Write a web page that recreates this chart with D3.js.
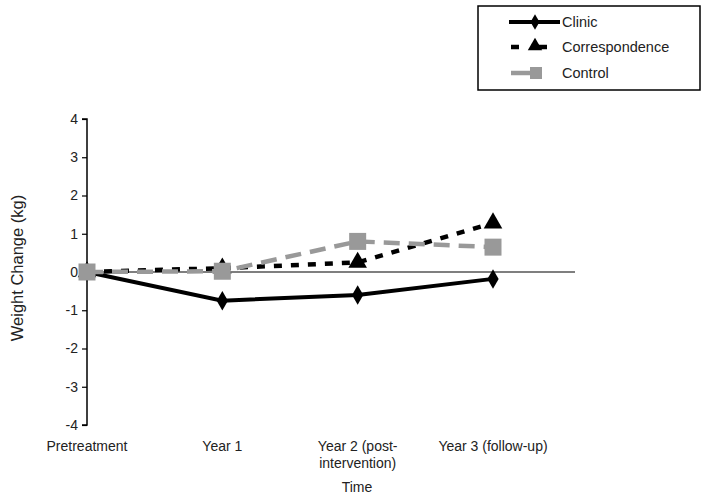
<!DOCTYPE html>
<html>
<head>
<meta charset="utf-8">
<script src="https://cdn.jsdelivr.net/npm/d3@7"></script>
<style>
  body { margin: 0; background: #fff; }
  svg { font-family: "Liberation Sans", Arial, sans-serif; }
</style>
</head>
<body>
<div id="chart"></div>
<script>
// data
var categories = ["Pretreatment", "Year 1", "Year 2 (post-intervention)", "Year 3 (follow-up)"];
var catLines = [["Pretreatment"], ["Year 1"], ["Year 2 (post-", "intervention)"], ["Year 3 (follow-up)"]];
var clinic = [0, -0.75, -0.6, -0.18];
var correspondence = [0, 0.1, 0.25, 1.28];
var control = [0, 0.02, 0.8, 0.65];
var yTicks = [-4, -3, -2, -1, 0, 1, 2, 3, 4];

var width = 705, height = 498;
var svg = d3.select("#chart").append("svg")
    .attr("width", width)
    .attr("height", height);

var x = d3.scalePoint().domain(categories).range([87, 493]);
var y = d3.scaleLinear().domain([-4, 4]).range([425, 119]);

// y axis
var yAxis = d3.axisLeft(y).tickValues(yTicks).tickSize(5).tickFormat(d3.format("d"));
var gy = svg.append("g").attr("transform", "translate(87,0)").call(yAxis);
gy.select(".domain").attr("stroke", "#000").attr("stroke-width", 1.5).attr("d", "M-5,119H0V425H-5");
gy.selectAll(".tick line").attr("stroke", "#000").attr("stroke-width", 1.2);
gy.selectAll(".tick text").attr("font-size", 14).attr("fill", "#222").attr("x", -9)
    .text(function(d) { return d < 0 ? "-" + Math.abs(d) : d; });

// zero line
svg.append("line")
    .attr("x1", 87).attr("x2", 575)
    .attr("y1", y(0)).attr("y2", y(0))
    .attr("stroke", "#000").attr("stroke-width", 1.2);

// category labels
categories.forEach(function(c, i) {
    var t = svg.append("text")
        .attr("x", x(c)).attr("y", 451)
        .attr("text-anchor", "middle")
        .attr("font-size", 14).attr("fill", "#222");
    catLines[i].forEach(function(s, j) {
        t.append("tspan").attr("x", x(c)).attr("dy", j == 0 ? 0 : 17).text(s);
    });
});

// axis titles
svg.append("text").attr("x", 357).attr("y", 492).attr("text-anchor", "middle")
    .attr("font-size", 14).attr("fill", "#222").text("Time");
svg.append("text").attr("transform", "translate(23,268) rotate(-90)").attr("text-anchor", "middle")
    .attr("font-size", 16.5).attr("fill", "#222").text("Weight Change (kg)");

var line = d3.line()
    .x(function(d, i) { return x(categories[i]); })
    .y(function(d) { return y(d); });

// clinic
svg.append("path").attr("d", line(clinic)).attr("fill", "none")
    .attr("stroke", "#000").attr("stroke-width", 4);
svg.selectAll(".dia").data(clinic).enter().append("path")
    .attr("d", d3.symbol().type(d3.symbolDiamond).size(110))
    .attr("transform", function(d, i) { return "translate(" + x(categories[i]) + "," + y(d) + ")"; })
    .attr("fill", "#000");

// correspondence
svg.append("path").attr("d", line(correspondence)).attr("fill", "none")
    .attr("stroke", "#000").attr("stroke-width", 4.5).attr("stroke-dasharray", "8,9");
svg.selectAll(".tri").data(correspondence).enter().append("path")
    .attr("d", d3.symbol().type(d3.symbolTriangle).size(150))
    .attr("transform", function(d, i) { return "translate(" + x(categories[i]) + "," + y(d) + ")"; })
    .attr("fill", "#000");

// control
svg.append("path").attr("d", line(control)).attr("fill", "none")
    .attr("stroke", "#999").attr("stroke-width", 4.5).attr("stroke-dasharray", "16,9");
svg.selectAll(".sq").data(control).enter().append("rect")
    .attr("x", function(d, i) { return x(categories[i]) - 8.5; })
    .attr("y", function(d) { return y(d) - 8.5; })
    .attr("width", 17).attr("height", 17)
    .attr("fill", "#999");

// legend
var lg = svg.append("g");
lg.append("rect").attr("x", 478).attr("y", 6).attr("width", 222).attr("height", 84)
    .attr("fill", "#fff").attr("stroke", "#000").attr("stroke-width", 1.5);
var legendItems = [
    {name: "Clinic", yy: 22},
    {name: "Correspondence", yy: 47},
    {name: "Control", yy: 73}
];
// clinic sample
lg.append("line").attr("x1", 509).attr("x2", 560).attr("y1", 22).attr("y2", 22)
    .attr("stroke", "#000").attr("stroke-width", 4);
lg.append("path").attr("d", d3.symbol().type(d3.symbolDiamond).size(70))
    .attr("transform", "translate(535,22)");
// correspondence sample
lg.append("line").attr("x1", 511).attr("x2", 548).attr("y1", 47).attr("y2", 47)
    .attr("stroke", "#000").attr("stroke-width", 4.5).attr("stroke-dasharray", "8,12");
lg.append("path").attr("d", d3.symbol().type(d3.symbolTriangle).size(90))
    .attr("transform", "translate(535,46)");
lg.append("line").attr("x1", 535).attr("x2", 547).attr("y1", 47).attr("y2", 47)
    .attr("stroke", "#000").attr("stroke-width", 4.5);
// control sample
lg.append("line").attr("x1", 511).attr("x2", 540).attr("y1", 73).attr("y2", 73)
    .attr("stroke", "#999").attr("stroke-width", 4.5);
lg.append("rect").attr("x", 530).attr("y", 67).attr("width", 12).attr("height", 12).attr("fill", "#999");

legendItems.forEach(function(d) {
    lg.append("text").attr("x", 562).attr("y", d.yy + 5)
        .attr("font-size", 14.5).attr("fill", "#222").text(d.name);
});
</script>
</body>
</html>
